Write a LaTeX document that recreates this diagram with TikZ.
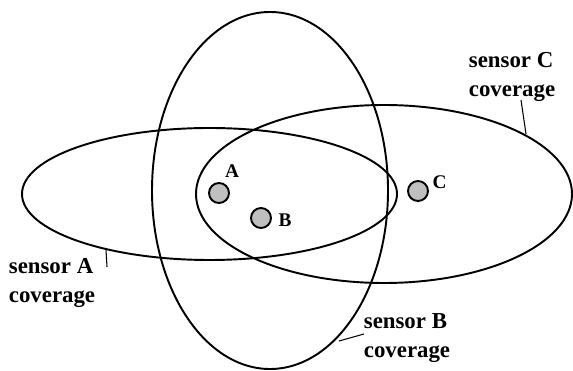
\documentclass[tikz,border=0pt]{standalone}
\usepackage{fontspec}
\setmainfont{Liberation Serif}
\usepackage{tikz}

\begin{document}
\begin{tikzpicture} [zone/.style = {line width=1.1pt},
	sensor/.style = {circle, draw, line width=1.1pt, fill=black!25, minimum size=0.4cm, inner sep=0pt},
	dotname/.style = {font=\fontsize{11}{13}\selectfont\bfseries, inner sep=0pt},
	cover/.style = {font=\fontsize{13}{16}\selectfont\bfseries, align=left, inner sep=0pt},
	leader/.style = {line width=0.6pt}]
	\useasboundingbox (0,0) rectangle (11.46,7.42);
	% coverage areas
	\draw [zone] (4.19,3.54) ellipse (3.75cm and 1.32cm);
	\draw [zone] (5.40,3.61) ellipse (2.36cm and 3.57cm);
	\draw [zone] (7.68,3.54) ellipse (3.76cm and 1.78cm);
	% sensors
	\node [sensor] (sA) at (4.38,3.56) {};
	\node [sensor] (sB) at (5.22,3.06) {};
	\node [sensor] (sC) at (8.36,3.60) {};
	\node [dotname] (nA) at (4.64,4.00) {A};
	\node [dotname] (nB) at (5.70,3.02) {B};
	\node [dotname] (nC) at (8.79,3.78) {C};
	% labels
	\node [cover] (covA) at (1.04,1.76) {sensor A\\coverage};
	\node [cover] (covB) at (8.14,0.66) {sensor B\\coverage};
	\node [cover] (covC) at (10.24,5.88) {sensor C\\coverage};
	\coordinate (tipA) at (2.12,2.42);
	\coordinate (endA) at (2.14,2.08);
	\coordinate (tipB) at (6.78,0.60);
	\coordinate (endB) at (7.28,0.74);
	\coordinate (tipC) at (10.52,4.74);
	\coordinate (endC) at (10.42,5.42);
	\draw [leader] (tipA) -- (endA);
	\draw [leader] (tipB) -- (endB);
	\draw [leader] (tipC) -- (endC);
\end{tikzpicture}
\end{document}
